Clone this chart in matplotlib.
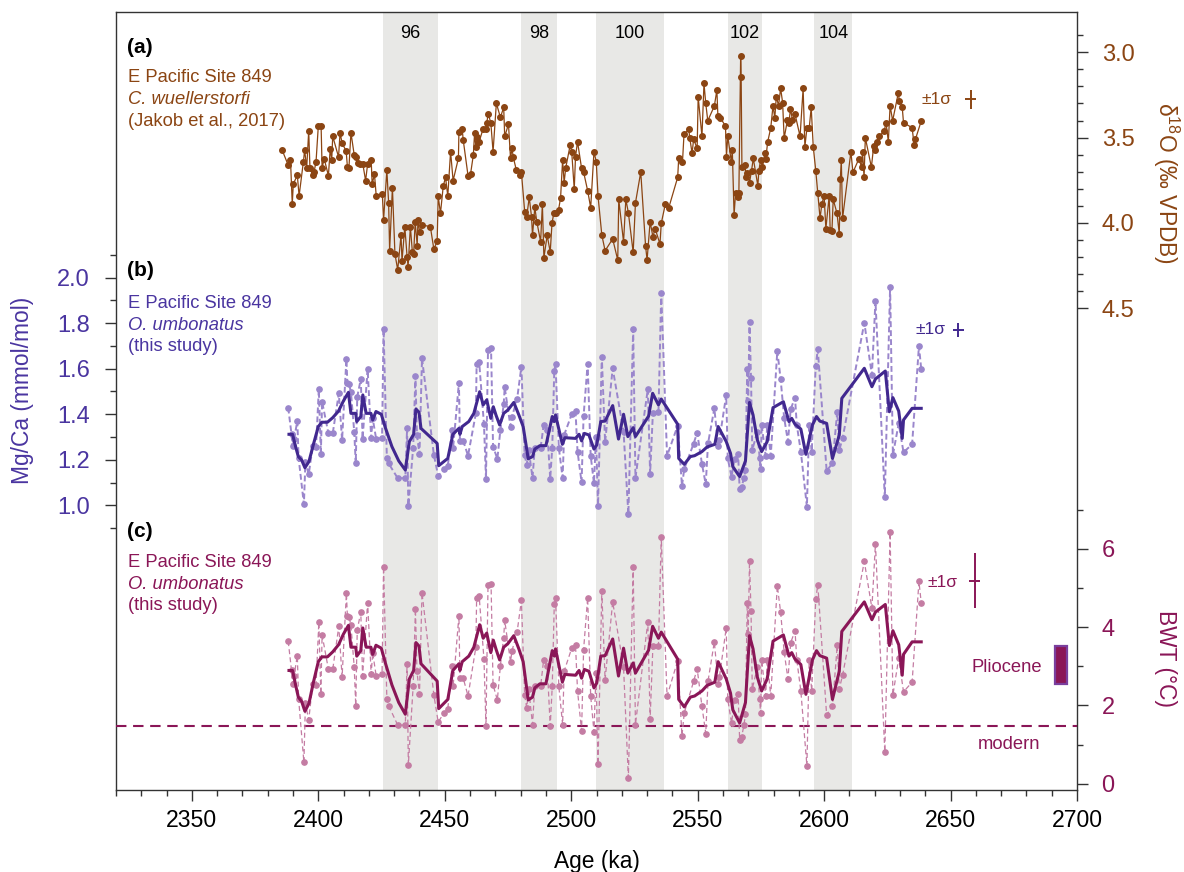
import numpy as np
import matplotlib
matplotlib.use("Agg")
import matplotlib.pyplot as plt
from matplotlib.patches import Rectangle
from matplotlib.transforms import blended_transform_factory

plt.rcParams['font.family'] = ['Liberation Sans', 'DejaVu Sans']
plt.rcParams['mathtext.fontset'] = 'custom'
plt.rcParams['mathtext.rm'] = 'Liberation Sans'
plt.rcParams['mathtext.it'] = 'Liberation Sans:italic'
plt.rcParams['axes.linewidth'] = 1.0

# ---------------- data ----------------
# (a) benthic d18O, C. wuellerstorfi (Jakob et al., 2017)
d18o_age = [2385.7, 2388.1, 2389.0, 2389.7, 2390.1, 2391.7, 2392.4, 2394.1, 2394.6, 2395.4,
            2396.2, 2396.7, 2397.8, 2398.3, 2399.1, 2400.0, 2401.1, 2401.5, 2402.3, 2404.0,
            2404.7, 2405.3, 2405.7, 2408.0, 2408.6, 2409.4, 2411.0, 2411.5, 2412.1, 2412.9,
            2414.2, 2414.8, 2415.5, 2416.6, 2417.6, 2418.7, 2419.5, 2420.9, 2421.3, 2422.2,
            2422.9, 2425.3, 2425.8, 2427.1, 2427.8, 2428.2, 2429.3, 2430.3, 2431.4, 2432.7,
            2433.1, 2434.2, 2435.1, 2435.5, 2436.4, 2437.2, 2437.7, 2438.3, 2439.1, 2439.4,
            2440.1, 2441.0, 2444.3, 2445.7, 2447.0, 2447.4, 2448.3, 2449.4, 2450.3, 2451.2,
            2452.3, 2453.3, 2455.4, 2455.6, 2456.9, 2457.3, 2459.2, 2460.2, 2461.3, 2461.8,
            2462.3, 2462.9, 2463.6, 2465.1, 2466.2, 2466.6, 2467.2, 2468.2, 2469.1, 2470.4,
            2472.0, 2473.3, 2473.7, 2475.2, 2476.0, 2476.6, 2477.1, 2478.3, 2479.8, 2480.3,
            2481.6, 2482.4, 2483.4, 2484.3, 2484.7, 2485.6, 2486.4, 2487.9, 2488.6, 2489.2,
            2490.5, 2491.7, 2492.4, 2493.1, 2493.8, 2495.0, 2495.8, 2496.6, 2497.2, 2497.8,
            2499.6, 2500.2, 2501.2, 2501.7, 2502.5, 2504.1, 2504.9, 2506.5, 2507.7, 2509.0,
            2509.9, 2510.6, 2512.1, 2513.4, 2516.4, 2518.4, 2518.8, 2520.7, 2521.6, 2522.6,
            2524.5, 2525.4, 2527.5, 2529.4, 2530.0, 2531.2, 2532.3, 2533.2, 2535.1, 2535.6,
            2537.2, 2538.5, 2542.1, 2542.5, 2544.0, 2544.6, 2546.5, 2546.9, 2547.8, 2548.4,
            2549.8, 2550.2, 2551.7, 2552.5, 2553.2, 2554.0, 2556.6, 2557.6, 2558.0, 2558.9,
            2561.0, 2561.4, 2561.9, 2563.3, 2563.7, 2564.4, 2565.0, 2565.9, 2566.3, 2567.0,
            2567.2, 2567.5, 2568.7, 2569.2, 2569.7, 2570.5, 2571.3, 2572.0, 2573.8, 2574.2,
            2574.9, 2575.6, 2576.6, 2576.9, 2577.7, 2578.9, 2579.8, 2580.5, 2581.1, 2582.0,
            2582.8, 2583.6, 2584.2, 2585.5, 2586.1, 2586.7, 2587.5, 2588.5, 2590.5, 2591.7,
            2592.4, 2593.2, 2594.1, 2594.9, 2595.7, 2596.7, 2597.5, 2598.4, 2599.1, 2600.0,
            2600.7, 2602.0, 2602.4, 2603.1, 2603.6, 2605.1, 2606.0, 2606.4, 2606.8, 2607.3,
            2610.6, 2611.4, 2613.7, 2614.8, 2615.2, 2615.8, 2616.3, 2618.7, 2619.6, 2620.3,
            2620.8, 2621.9, 2623.8, 2624.5, 2625.4, 2626.1, 2627.1, 2629.3, 2629.8, 2630.9,
            2631.4, 2634.8, 2635.6, 2636.1, 2638.4]
d18o_val = [3.573, 3.662, 3.631, 3.891, 3.772, 3.721, 3.842, 3.641, 3.573, 3.680,
            3.461, 3.680, 3.721, 3.703, 3.641, 3.432, 3.432, 3.680, 3.623, 3.723,
            3.565, 3.631, 3.492, 3.614, 3.471, 3.533, 3.578, 3.670, 3.680, 3.471,
            3.602, 3.612, 3.651, 3.655, 3.655, 3.752, 3.655, 3.631, 3.774, 3.713,
            3.842, 3.830, 3.983, 3.692, 3.881, 4.163, 3.793, 4.182, 4.276, 4.071,
            4.223, 4.022, 4.198, 4.256, 4.022, 4.172, 4.182, 3.993, 4.133, 3.983,
            4.055, 4.012, 4.022, 4.155, 4.104, 3.842, 3.944, 3.784, 3.733, 3.842,
            3.582, 3.752, 3.621, 3.465, 3.451, 3.514, 3.723, 3.713, 3.602, 3.471,
            3.553, 3.494, 3.524, 3.451, 3.451, 3.412, 3.362, 3.412, 3.582, 3.299,
            3.381, 3.323, 3.493, 3.422, 3.622, 3.563, 3.616, 3.690, 3.719, 3.702,
            3.934, 3.964, 3.850, 3.964, 4.073, 3.909, 3.993, 4.110, 3.889, 4.204,
            4.073, 4.171, 4.003, 3.944, 3.940, 3.923, 3.852, 3.631, 3.764, 3.680,
            3.543, 3.583, 3.803, 3.612, 3.524, 3.680, 3.702, 3.811, 3.911, 3.583,
            3.641, 3.842, 4.071, 4.163, 4.094, 4.218, 3.862, 4.112, 3.862, 3.940,
            4.173, 3.883, 3.702, 4.134, 4.218, 3.993, 4.081, 4.034, 4.124, 4.003,
            3.891, 3.915, 3.733, 3.622, 3.643, 3.481, 3.452, 3.504, 3.592, 3.510,
            3.563, 3.260, 3.493, 3.182, 3.299, 3.401, 3.315, 3.221, 3.373, 3.383,
            3.432, 3.612, 3.491, 3.641, 3.573, 3.954, 3.823, 3.846, 3.823, 3.022,
            3.143, 3.670, 3.663, 3.729, 3.706, 3.764, 3.694, 3.622, 3.782, 3.694,
            3.631, 3.670, 3.592, 3.628, 3.524, 3.444, 3.313, 3.385, 3.260, 3.313,
            3.211, 3.295, 3.504, 3.397, 3.413, 3.332, 3.397, 3.362, 3.493, 3.211,
            3.553, 3.446, 3.446, 3.323, 3.553, 3.694, 3.823, 3.973, 3.889, 3.842,
            4.034, 3.842, 4.042, 4.046, 3.862, 3.944, 4.065, 3.745, 3.631, 3.973,
            3.583, 3.704, 3.626, 3.670, 3.583, 3.733, 3.500, 3.674, 3.549, 3.573,
            3.524, 3.493, 3.459, 3.413, 3.524, 3.313, 3.401, 3.241, 3.284, 3.323,
            3.413, 3.442, 3.543, 3.510, 3.403]

# (b) O. umbonatus Mg/Ca, individual measurements
mgca_age = [2388.1, 2389.4, 2389.8, 2390.4, 2391.7, 2392.2, 2394.3, 2394.9, 2396.2, 2397.8,
            2399.1, 2400.2, 2401.0, 2401.5, 2404.0, 2405.7, 2408.1, 2409.4, 2411.1, 2411.5,
            2412.2, 2412.9, 2414.2, 2414.8, 2415.4, 2416.8, 2417.5, 2419.5, 2420.9, 2421.5,
            2422.9, 2425.2, 2425.8, 2427.1, 2427.8, 2431.4, 2434.4, 2435.1, 2435.6, 2437.5,
            2438.4, 2439.0, 2440.0, 2441.0, 2445.7, 2447.4, 2449.6, 2451.2, 2452.9, 2453.3,
            2455.6, 2456.0, 2457.3, 2459.2, 2462.3, 2462.6, 2463.6, 2465.5, 2466.3, 2467.1,
            2468.3, 2469.1, 2470.8, 2472.0, 2473.3, 2473.7, 2476.0, 2476.6, 2478.6, 2480.3,
            2481.6, 2482.4, 2483.2, 2484.7, 2485.6, 2487.9, 2489.1, 2490.5, 2491.7, 2492.5,
            2493.3, 2493.8, 2495.1, 2496.6, 2497.2, 2500.2, 2501.7, 2502.5, 2504.1, 2504.9,
            2506.5, 2507.7, 2509.0, 2509.8, 2510.6, 2512.1, 2513.4, 2516.4, 2520.7, 2522.6,
            2524.5, 2525.4, 2530.3, 2531.2, 2532.3, 2534.5, 2535.6, 2537.9, 2542.1, 2543.8,
            2544.7, 2548.4, 2549.8, 2551.7, 2553.2, 2554.1, 2556.6, 2558.1, 2558.6, 2561.3,
            2561.9, 2563.4, 2564.6, 2566.0, 2566.6, 2567.4, 2568.3, 2568.9, 2569.6, 2570.0,
            2570.5, 2571.1, 2571.6, 2573.6, 2574.5, 2574.9, 2575.3, 2576.9, 2577.5, 2578.9,
            2581.5, 2582.8, 2584.2, 2585.7, 2586.8, 2588.5, 2589.2, 2590.8, 2593.2, 2594.1,
            2595.1, 2596.7, 2597.5, 2601.0, 2603.3, 2605.2, 2606.0, 2607.3, 2615.9, 2618.9,
            2620.3, 2624.0, 2626.1, 2627.2, 2629.5, 2631.4, 2634.8, 2637.5, 2638.4]
mgca_val = [1.429, 1.312, 1.262, 1.291, 1.370, 1.209, 1.004, 1.192, 1.136, 1.261,
            1.258, 1.510, 1.224, 1.455, 1.316, 1.316, 1.492, 1.287, 1.643, 1.536,
            1.532, 1.496, 1.324, 1.184, 1.477, 1.555, 1.291, 1.598, 1.297, 1.382,
            1.290, 1.297, 1.775, 1.209, 1.184, 1.119, 1.119, 1.338, 0.997, 1.253,
            1.570, 1.309, 1.224, 1.646, 1.221, 1.129, 1.158, 1.173, 1.331, 1.253,
            1.539, 1.283, 1.283, 1.218, 1.404, 1.621, 1.630, 1.356, 1.116, 1.682,
            1.690, 1.258, 1.204, 1.331, 1.444, 1.518, 1.346, 1.390, 1.467, 1.609,
            1.221, 1.177, 1.243, 1.121, 1.253, 1.253, 1.353, 1.331, 1.116, 1.253,
            1.590, 1.619, 1.253, 1.121, 1.309, 1.400, 1.414, 1.236, 1.101, 1.394,
            1.622, 1.218, 1.097, 1.302, 0.998, 1.653, 1.277, 1.602, 1.324, 0.960,
            1.773, 1.121, 1.511, 1.138, 1.407, 1.409, 1.934, 1.217, 1.350, 1.085,
            1.160, 1.271, 1.319, 1.182, 1.092, 1.272, 1.426, 1.262, 1.287, 1.485,
            1.206, 1.126, 1.204, 1.224, 1.072, 1.082, 1.119, 1.155, 1.599, 1.458,
            1.807, 1.558, 1.243, 1.324, 1.206, 1.158, 1.353, 1.218, 1.353, 1.218,
            1.679, 1.555, 1.385, 1.280, 1.423, 1.473, 1.353, 1.236, 0.994, 1.353,
            1.236, 1.614, 1.685, 1.152, 1.184, 1.411, 1.243, 1.294, 1.802, 1.573,
            1.898, 1.035, 1.961, 1.221, 1.360, 1.233, 1.268, 1.700, 1.599]

# (b) O. umbonatus Mg/Ca, smoothed record
mgca_sm_age = [2388.4, 2389.8, 2391.2, 2392.1, 2393.4, 2394.7, 2396.3, 2398.0, 2400.0, 2401.4,
               2403.6, 2405.7, 2408.0, 2409.9, 2411.9, 2412.9, 2414.8, 2415.2, 2416.8, 2417.6,
               2418.9, 2420.8, 2421.5, 2422.8, 2424.9, 2426.6, 2429.1, 2431.8, 2434.4, 2436.0,
               2437.7, 2438.6, 2439.8, 2440.6, 2447.0, 2447.6, 2451.2, 2453.2, 2455.6, 2456.0,
               2456.9, 2459.5, 2461.5, 2463.8, 2465.2, 2466.6, 2468.2, 2469.2, 2470.3, 2471.7,
               2473.3, 2475.0, 2477.3, 2479.3, 2481.0, 2483.0, 2484.7, 2485.6, 2487.6, 2490.0,
               2492.5, 2493.3, 2493.8, 2496.5, 2497.5, 2501.7, 2503.1, 2504.1, 2505.2, 2507.0,
               2509.0, 2510.1, 2511.7, 2513.4, 2516.4, 2518.7, 2520.7, 2522.4, 2524.5, 2525.4,
               2530.6, 2532.2, 2534.5, 2535.6, 2542.1, 2542.5, 2544.7, 2547.1, 2548.8, 2551.7,
               2553.7, 2556.8, 2558.1, 2561.3, 2563.0, 2563.9, 2566.6, 2568.9, 2570.5, 2571.9,
               2573.6, 2575.3, 2577.5, 2579.8, 2582.2, 2583.9, 2586.1, 2587.2, 2588.5, 2590.8,
               2592.8, 2595.4, 2597.0, 2598.3, 2601.0, 2603.3, 2606.0, 2607.0, 2615.9, 2618.9,
               2620.3, 2624.2, 2625.8, 2627.2, 2629.5, 2630.9, 2631.4, 2634.8, 2638.4]
mgca_sm_val = [1.312, 1.312, 1.250, 1.214, 1.199, 1.165, 1.192, 1.265, 1.346, 1.365,
               1.365, 1.385, 1.414, 1.458, 1.496, 1.404, 1.404, 1.368, 1.390, 1.485,
               1.404, 1.404, 1.375, 1.412, 1.400, 1.338, 1.258, 1.195, 1.155, 1.280,
               1.312, 1.423, 1.409, 1.338, 1.272, 1.174, 1.206, 1.312, 1.338, 1.312,
               1.346, 1.368, 1.404, 1.499, 1.441, 1.463, 1.382, 1.433, 1.395, 1.353,
               1.404, 1.419, 1.452, 1.397, 1.346, 1.204, 1.214, 1.247, 1.262, 1.262,
               1.390, 1.368, 1.397, 1.268, 1.297, 1.294, 1.312, 1.283, 1.316, 1.309,
               1.247, 1.265, 1.368, 1.370, 1.438, 1.291, 1.400, 1.302, 1.341, 1.302,
               1.392, 1.492, 1.441, 1.467, 1.356, 1.206, 1.180, 1.214, 1.218, 1.236,
               1.256, 1.268, 1.346, 1.280, 1.228, 1.170, 1.126, 1.195, 1.452, 1.397,
               1.287, 1.236, 1.280, 1.429, 1.444, 1.455, 1.368, 1.382, 1.356, 1.335,
               1.224, 1.353, 1.390, 1.370, 1.360, 1.206, 1.309, 1.470, 1.602, 1.521,
               1.555, 1.590, 1.411, 1.473, 1.414, 1.294, 1.375, 1.426, 1.426]

# (c) Mg/Ca -> BWT (exponential O. umbonatus calibration: Mg/Ca = A * exp(B * BWT))
CAL_A = 0.9435
CAL_B = 0.114

modern_bwt = 1.47
pliocene_age = [2691.3, 2695.9]
pliocene_bwt = [2.54, 3.52]

bands = [(2425.4, 2447.4, '96'), (2480.3, 2494.5, '98'), (2509.8, 2536.5, '100'),
         (2562.1, 2575.4, '102'), (2596.2, 2611.2, '104')]

sigma_d18o = 0.055
sigma_mgca = 0.03
sigma_bwt = 0.7

# ---------------- style ----------------
BROWN = '#8B4513'
PURPLE_D = '#41288f'
PURPLE_L = '#9a86cc'
PURPLE_TXT = '#4a35a0'
MAG_D = '#8a1657'
MAG_L = '#c47ca3'
BAND = '#e8e8e6'
AXC = '#333333'

W, H = 1184, 872
fig = plt.figure(figsize=(W / 100, H / 100), dpi=100)
L, R, T, B = 116, 1077, 12, 790
ax = fig.add_axes([L / W, 1 - B / H, (R - L) / W, (B - T) / H])
ax.set_xlim(2320, 2700)

# y scales anchored to pixel positions of the reference
ax.set_ylim(1.0 - (B - 505.3) / 227.6, 1.0 + (505.3 - T) / 227.6)        # Mg/Ca
axd = ax.twinx()
axd.set_ylim(3.0 + (B - 52.3) / 170.6, 3.0 - (52.3 - T) / 170.6)         # d18O (inverted)
axt = ax.twinx()
axt.set_ylim((783.7 - B) / 39.15, (783.7 - T) / 39.15)                    # BWT

for a in (axd, axt):
    for s in a.spines.values():
        s.set_visible(False)
for s in ax.spines.values():
    s.set_color(AXC)
    s.set_linewidth(1.0)

# bands
for s, e, lab in bands:
    ax.axvspan(s, e, color=BAND, lw=0, zorder=0)
    ax.text((s + e) / 2, 1 - 38.5 / H, lab, transform=blended_transform_factory(ax.transData, fig.transFigure),
            ha='center', va='baseline', fontsize=13, color='black')

# x axis
ax.set_xticks(np.arange(2350, 2701, 50))
ax.set_xticks(np.arange(2320, 2701, 10), minor=True)
ax.tick_params(axis='x', which='major', length=7.7, width=1.0, direction='out', labelsize=16.6, pad=6, color=AXC)
ax.tick_params(axis='x', which='minor', length=4.2, width=1.0, direction='out', color=AXC)
ax.set_xlabel('Age (ka)', fontsize=16.4, labelpad=13)

# Mg/Ca axis (left)
ax.set_yticks(np.round(np.arange(1.0, 2.01, 0.2), 1))
ax.set_yticks(np.round(np.arange(0.9, 2.11, 0.2), 1), minor=True)
ax.set_yticklabels(['%.1f' % v for v in np.arange(1.0, 2.01, 0.2)])
ax.tick_params(axis='y', which='major', length=7.7, width=1.0, direction='out', labelsize=17,
               labelcolor=PURPLE_TXT, pad=11, color=AXC)
ax.tick_params(axis='y', which='minor', length=4.2, width=1.0, direction='out', color=AXC)

# d18O axis (right, upper)
axd.yaxis.tick_right()
axd.set_yticks([3.0, 3.5, 4.0, 4.5])
axd.set_yticks([2.9, 3.1, 3.2, 3.3, 3.4, 3.6, 3.7, 3.8, 3.9, 4.1, 4.2, 4.3, 4.4], minor=True)
axd.set_yticklabels(['3.0', '3.5', '4.0', '4.5'])
axd.tick_params(axis='y', which='major', length=7.7, width=1.0, direction='out', labelsize=17,
                labelcolor=BROWN, pad=10, color=AXC)
axd.tick_params(axis='y', which='minor', length=4.2, width=1.0, direction='out', color=AXC)

# BWT axis (right, lower)
axt.yaxis.tick_right()
axt.set_yticks([0, 2, 4, 6])
axt.set_yticks([1, 3, 5, 7], minor=True)
axt.tick_params(axis='y', which='major', length=7.7, width=1.0, direction='out', labelsize=17,
                labelcolor=MAG_D, pad=10, color=AXC)
axt.tick_params(axis='y', which='minor', length=4.2, width=1.0, direction='out', color=AXC)

# ---------------- series ----------------
axd.plot(d18o_age, d18o_val, '-o', color=BROWN, lw=0.9, ms=4.0, zorder=3)

mg_a = np.array(mgca_age); mg_v = np.array(mgca_val)
o = np.argsort(mg_a)
ax.plot(mg_a[o], mg_v[o], ls=(0, (3, 1.6)), lw=1.4, marker='o', ms=3.8, color=PURPLE_L, zorder=3)
ax.plot(mgca_sm_age, mgca_sm_val, '-', lw=2.2, color=PURPLE_D, zorder=4)

bwt_raw = np.log(mg_v[o] / CAL_A) / CAL_B
bwt_sm = np.log(np.array(mgca_sm_val) / CAL_A) / CAL_B
axt.plot(mg_a[o], bwt_raw, ls=(0, (4, 2.5)), lw=0.9, marker='o', ms=3.8, color=MAG_L, zorder=3)
axt.plot(mgca_sm_age, bwt_sm, '-', lw=2.2, color=MAG_D, zorder=4)

axt.axhline(modern_bwt, color=MAG_D, lw=1.5, ls=(0, (5, 3.2)), zorder=2)
axt.add_patch(Rectangle((pliocene_age[0], pliocene_bwt[0]), pliocene_age[1] - pliocene_age[0],
                        pliocene_bwt[1] - pliocene_bwt[0], facecolor=MAG_D, edgecolor='#7a3f9e',
                        lw=1.6, zorder=5))

# error crosses
axd.errorbar([2657.9], [3.275], yerr=[sigma_d18o], xerr=[2.2], color=BROWN, lw=1.4, capsize=0)
ax.errorbar([2653.1], [1.77], yerr=[sigma_mgca], xerr=[2.2], color=PURPLE_D, lw=1.4, capsize=0)
axt.errorbar([2659.5], [5.18], yerr=[sigma_bwt], xerr=[2.1], color=MAG_D, lw=1.4, capsize=0)

# ---------------- texts ----------------
def ptxt(x, y, s, **kw):
    fig.text(x / W, 1 - y / H, s, **kw)

ptxt(127, 53, '(a)', fontsize=15, fontweight='bold', color='black', va='baseline')
ptxt(128, 82, 'E Pacific Site 849', fontsize=13.2, color=BROWN, va='baseline')
ptxt(128, 104, 'C. wuellerstorfi', fontsize=13.2, color=BROWN, style='italic', va='baseline')
ptxt(128, 126, '(Jakob et al., 2017)', fontsize=13.2, color=BROWN, va='baseline')

ptxt(127, 276, '(b)', fontsize=15, fontweight='bold', color='black', va='baseline')
ptxt(128, 308, 'E Pacific Site 849', fontsize=13.2, color=PURPLE_TXT, va='baseline')
ptxt(128, 330.5, 'O. umbonatus', fontsize=13.2, color=PURPLE_TXT, style='italic', va='baseline')
ptxt(128, 351, '(this study)', fontsize=13.2, color=PURPLE_TXT, va='baseline')

ptxt(127, 537, '(c)', fontsize=15, fontweight='bold', color='black', va='baseline')
ptxt(128, 566.5, 'E Pacific Site 849', fontsize=13.2, color=MAG_D, va='baseline')
ptxt(128, 589, 'O. umbonatus', fontsize=13.2, color=MAG_D, style='italic', va='baseline')
ptxt(128, 610, '(this study)', fontsize=13.2, color=MAG_D, va='baseline')

ptxt(922, 103.5, '±1σ', fontsize=12.5, color=BROWN, va='baseline')
ptxt(916, 333.5, '±1σ', fontsize=12.5, color=PURPLE_D, va='baseline')
ptxt(927, 587, '±1σ', fontsize=12.5, color=MAG_D, va='baseline')

ptxt(1042, 672, 'Pliocene', fontsize=13.2, color=MAG_D, ha='right', va='baseline')
ptxt(1009, 749, 'modern', fontsize=13.2, color=MAG_D, ha='center', va='baseline')

ptxt(22.5, 390, 'Mg/Ca (mmol/mol)', fontsize=16.4, color=PURPLE_TXT, rotation=90, ha='center', va='center')
ptxt(1166, 183, r'δ$^{18}$O (‰ VPDB)', fontsize=16.4, color=BROWN, rotation=270, ha='center', va='center')
ptxt(1165, 658, 'BWT (°C)', fontsize=16.4, color=MAG_D, rotation=270, ha='center', va='center')

fig.savefig('out.png', dpi=100)
